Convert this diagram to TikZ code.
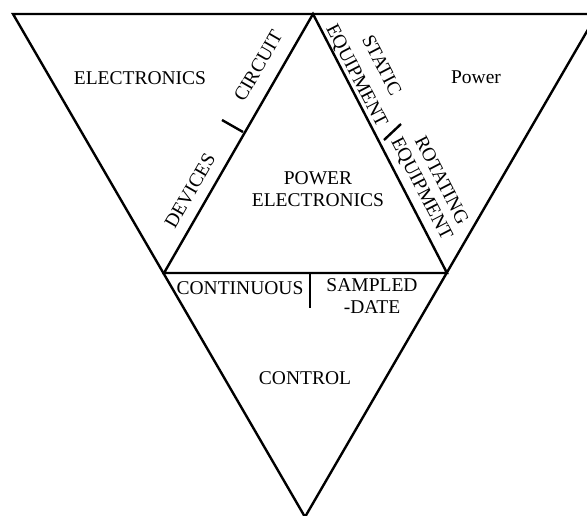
\documentclass[tikz,border=0pt]{standalone}
\usepackage{fontspec}
\setmainfont{Liberation Serif}
\begin{document}
\begin{tikzpicture}[x=1pt,y=-1pt,
  edge/.style={line width=2.4pt, line join=miter, line cap=butt},
  lbl/.style={font=\fontsize{19.5}{22}\selectfont, inner sep=0pt, align=center}]
\useasboundingbox (0,0) rectangle (587,515);
\clip (0,0) rectangle (587,515);
% outer triangle
\coordinate (TL) at (13,14);
\coordinate (TR) at (597,14);
\coordinate (B) at (305,517);
% inner triangle
\coordinate (IT) at (313,14);
\coordinate (IL) at (164,273);
\coordinate (IR) at (447,273);
\draw[edge] (TL) -- (TR) -- (B) -- cycle;
\draw[edge] (IL) -- (IT) -- (IR) -- cycle;
% ticks
\coordinate (t1a) at (243,132); \coordinate (t1b) at (222,120);
\coordinate (t2a) at (384,140); \coordinate (t2b) at (401,124);
\coordinate (t3a) at (310,273); \coordinate (t3b) at (310,308);
\draw[edge] (t1a) -- (t1b);
\draw[edge] (t2a) -- (t2b);
\draw[edge] (t3a) -- (t3b);
% labels
\node[lbl] (elec) at (140,78) {ELECTRONICS};
\node[lbl] (pow) at (476,77) {Power};
\node[lbl, rotate=60] (circ) at (258,66) {CIRCUIT};
\node[lbl, rotate=60] (dev) at (190,191) {DEVICES};
\node[lbl, rotate=-62.6] (stat) at (382,65) {STATIC};
\node[lbl, rotate=-62.6] (equ1) at (356,76) {EQUIPMENT};
\node[lbl, rotate=-62.6] (rot) at (442,180) {ROTATING};
\node[lbl, rotate=-62.6] (equ2) at (421,189) {EQUIPMENT};
\node[lbl] (pe) at (318,189) {POWER\\ELECTRONICS};
\node[lbl] (cont) at (240,288) {CONTINUOUS};
\node[lbl] (samp) at (372,296) {SAMPLED\\-DATE};
\node[lbl] (ctrl) at (305,378) {CONTROL};
\end{tikzpicture}
\end{document}
